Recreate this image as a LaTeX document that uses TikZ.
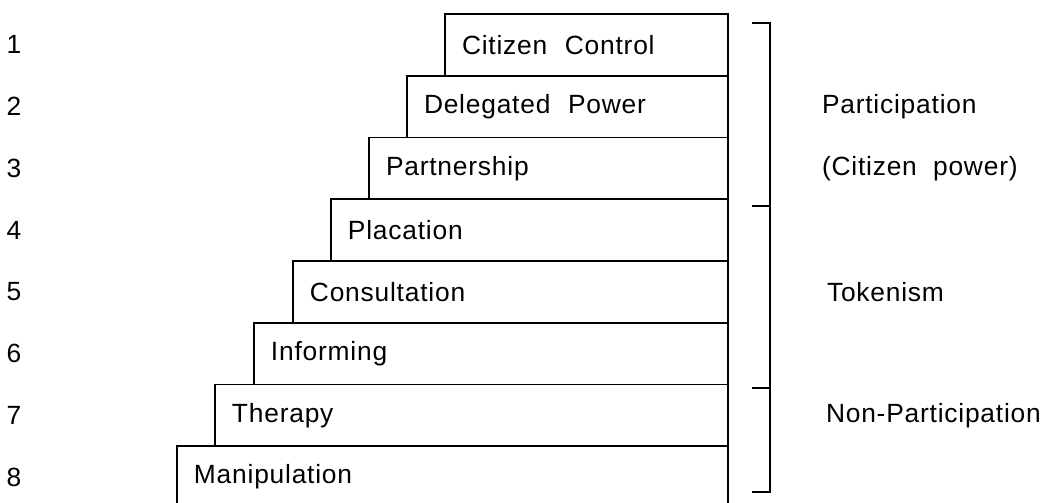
\documentclass[tikz,border=0pt]{standalone}
\usepackage{fontspec}
\setmainfont{Liberation Sans}[LetterSpace=3]
\usetikzlibrary{positioning}

\begin{document}
\begin{tikzpicture}[
        x=0.2mm, y=-0.2mm,
        every node/.style={font=\fontsize{15}{18}\selectfont, inner sep=0pt, outer sep=0pt},
        rung/.style={draw=black, line width=1pt, anchor=north east, minimum height=12.35mm, text width=#1, inner xsep=3.4mm, align=left},
        num/.style={anchor=center},
        side/.style={anchor=west},
        brace/.style={draw=black, line width=1pt},
        ]
      \useasboundingbox (0,0) rectangle (1055,503);
      \clip (0,0) rectangle (1055,503);

      \node [rung=49.8mm] (control) at (728,14) {Citizen\ \ Control};
      \node [rung=57.4mm] (delegated) at (control.south east) {Delegated\ \ Power};
      \node [rung=65.0mm] (partner) at (delegated.south east) {Partnership};
      \node [rung=72.6mm] (placate) at (partner.south east) {Placation};
      \node [rung=80.2mm] (consult) at (placate.south east) {Consultation};
      \node [rung=88.0mm] (inform) at (consult.south east) {Informing};
      \node [rung=95.8mm] (therapy) at (inform.south east) {Therapy};
      \node [rung=103.4mm] (manip) at (therapy.south east) {Manipulation};

      \node [num] (n1) at (14,0 |- control) {1};
      \node [num] (n2) at (14,0 |- delegated) {2};
      \node [num] (n3) at (14,0 |- partner) {3};
      \node [num] (n4) at (14,0 |- placate) {4};
      \node [num] (n5) at (14,0 |- consult) {5};
      \node [num] (n6) at (14,0 |- inform) {6};
      \node [num] (n7) at (14,0 |- therapy) {7};
      \node [num] (n8) at (14,0 |- manip) {8};

      \node [side] (particip) at (822,0 |- delegated) {Participation};
      \node [side] (power) at (822,0 |- partner) {(Citizen\ \ power)};
      \node [side] (token) at (827,0 |- consult) {Tokenism};
      \node [side] (nonpart) at (826,0 |- therapy) {Non-Participation};

      \draw[brace] (752,23) -- (770,23) -- (770,492) -- (752,492);
      \draw[brace] (752,206) -- (770,206);
      \draw[brace] (752,388) -- (770,388);
    \end{tikzpicture}
\end{document}
